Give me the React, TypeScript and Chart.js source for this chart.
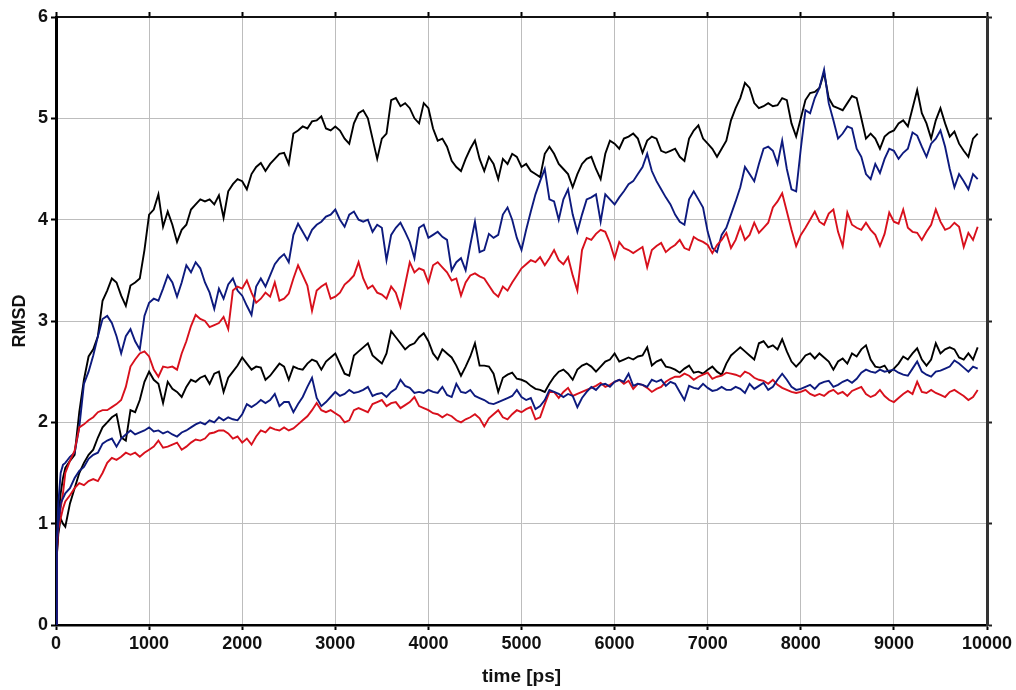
import React, { useEffect, useRef } from 'react';
import { Chart, registerables } from 'chart.js';

Chart.register(...registerables);

// time axis (ps): a few early samples, then every 50 ps from 100 to 9900
const earlyTimes = [0, 10, 25, 50, 75];
const gridStart = 100;
const gridStep = 50;
const gridEnd = 9900;
const times: number[] = [
  ...earlyTimes,
  ...Array.from({ length: (gridEnd - gridStart) / gridStep + 1 }, (_, i) => gridStart + i * gridStep),
];

const xTicks = [0, 1000, 2000, 3000, 4000, 5000, 6000, 7000, 8000, 9000, 10000];
const yTicks = [0, 1, 2, 3, 4, 5, 6];

// upper black
const blackUpper = [
  0, 0.75, 1.05, 1.3, 1.45,
  1.55, 1.62, 1.68, 2.1, 2.42, 2.65, 2.72, 2.85,
  3.2, 3.3, 3.42, 3.38, 3.25, 3.15, 3.35, 3.38, 3.42, 3.7,
  4.05, 4.1, 4.25, 3.93, 4.08, 3.95, 3.78, 3.9, 3.95, 4.1,
  4.15, 4.2, 4.18, 4.2, 4.15, 4.24, 4.02, 4.28, 4.35, 4.4,
  4.38, 4.3, 4.45, 4.52, 4.56, 4.48, 4.55, 4.6, 4.65, 4.66,
  4.55, 4.85, 4.88, 4.92, 4.9, 4.97, 4.98, 5.02, 4.9, 4.88,
  4.92, 4.88, 4.8, 4.75, 4.95, 5.05, 5.08, 5.0, 4.8, 4.6,
  4.8, 4.85, 5.18, 5.2, 5.12, 5.15, 5.1, 5.0, 4.95, 5.15,
  5.1, 4.9, 4.78, 4.8, 4.72, 4.58, 4.52, 4.48, 4.6, 4.7,
  4.78, 4.6, 4.48, 4.62, 4.55, 4.4, 4.6, 4.55, 4.65, 4.62,
  4.52, 4.55, 4.48, 4.45, 4.42, 4.65, 4.72, 4.65, 4.55, 4.5,
  4.45, 4.32, 4.45, 4.55, 4.6, 4.62, 4.5, 4.4, 4.65, 4.78,
  4.75, 4.7, 4.8, 4.82, 4.85, 4.8, 4.66, 4.78, 4.82, 4.8,
  4.68, 4.66, 4.68, 4.7, 4.62, 4.58, 4.8, 4.88, 4.93, 4.8,
  4.75, 4.7, 4.62, 4.7, 4.78, 4.98, 5.1, 5.2, 5.35, 5.3,
  5.15, 5.1, 5.12, 5.15, 5.12, 5.13, 5.2, 5.18, 4.95, 4.82,
  5.0, 5.18, 5.25, 5.26, 5.3, 5.45, 5.2, 5.12, 5.1, 5.08,
  5.15, 5.22, 5.2, 5.0, 4.8, 4.85, 4.8, 4.7, 4.82, 4.86,
  4.88, 4.95, 4.98, 4.92, 5.1, 5.28, 5.05, 4.95, 4.8, 4.98,
  5.1, 4.95, 4.82, 4.87, 4.75, 4.68, 4.62, 4.8, 4.85,
];

// upper blue
const blueUpper = [
  0, 0.8, 1.2, 1.5, 1.58,
  1.6, 1.66, 1.7, 1.95, 2.38, 2.5, 2.66, 2.85,
  3.02, 3.05, 2.98, 2.85, 2.68, 2.85, 2.92, 2.8, 2.72, 3.05,
  3.18, 3.22, 3.2, 3.32, 3.45, 3.38, 3.24, 3.38, 3.55, 3.48,
  3.58, 3.52, 3.38, 3.28, 3.12, 3.32, 3.22, 3.36, 3.42, 3.3,
  3.25, 3.15, 3.06, 3.34, 3.42, 3.34, 3.45, 3.56, 3.62, 3.66,
  3.58, 3.85, 3.96, 3.88, 3.8, 3.9, 3.95, 3.98, 4.03, 4.05,
  4.1, 4.0, 3.93, 4.05, 4.08, 4.0, 3.98, 4.0, 3.88, 3.95,
  3.92, 3.6, 3.85, 3.92, 3.97, 3.88, 3.78, 3.62, 3.92, 3.95,
  3.82, 3.85, 3.88, 3.83, 3.8, 3.5, 3.58, 3.62, 3.5, 3.75,
  3.98, 3.68, 3.7, 3.86, 3.82, 3.85, 4.05, 4.12, 4.0, 3.82,
  3.7, 3.9, 4.08, 4.25, 4.38, 4.5, 4.2, 4.18, 4.0, 4.2,
  4.3, 4.05, 3.88, 4.05, 4.2, 4.22, 4.25, 3.98, 4.25, 4.2,
  4.15, 4.22, 4.28, 4.35, 4.38, 4.45, 4.52, 4.65, 4.48, 4.38,
  4.3, 4.22, 4.15, 4.05, 3.98, 3.95, 4.2, 4.28, 4.2, 4.12,
  3.88, 3.72, 3.68, 3.85, 3.92, 4.05, 4.18, 4.32, 4.52, 4.45,
  4.38, 4.55, 4.7, 4.72, 4.68, 4.55, 4.78, 4.5, 4.3, 4.28,
  4.7, 5.08, 5.05, 5.2, 5.3, 5.48, 5.15, 4.98, 4.8, 4.85,
  4.92, 4.9, 4.7, 4.62, 4.45, 4.4, 4.55, 4.46, 4.6, 4.7,
  4.68, 4.6, 4.66, 4.7, 4.86, 4.83, 4.72, 4.62, 4.75, 4.8,
  4.88, 4.72, 4.5, 4.32, 4.45, 4.38, 4.3, 4.45, 4.4,
];

// upper red
const redUpper = [
  0, 0.7, 0.95, 1.15, 1.3,
  1.5, 1.62, 1.72, 1.95, 1.98, 2.02, 2.05, 2.1,
  2.12, 2.12, 2.15, 2.18, 2.22, 2.35, 2.55, 2.62, 2.68, 2.7,
  2.65, 2.52, 2.45, 2.55, 2.54, 2.55, 2.52, 2.68, 2.8, 2.95,
  3.06, 3.02, 3.0, 2.94, 2.96, 2.98, 3.04, 2.92, 3.3, 3.34,
  3.32, 3.4, 3.28, 3.18, 3.22, 3.28, 3.24, 3.38, 3.2, 3.22,
  3.27, 3.42, 3.55, 3.45, 3.35, 3.1, 3.3, 3.34, 3.37, 3.22,
  3.24, 3.28, 3.36, 3.4, 3.45, 3.58, 3.42, 3.32, 3.35, 3.28,
  3.26, 3.22, 3.34, 3.28, 3.14, 3.36, 3.58, 3.48, 3.52, 3.5,
  3.38, 3.55, 3.58, 3.53, 3.48, 3.4, 3.42, 3.25, 3.38, 3.45,
  3.47, 3.44, 3.42, 3.35, 3.28, 3.24, 3.34, 3.3, 3.38, 3.45,
  3.52, 3.56, 3.6, 3.58, 3.63, 3.55, 3.62, 3.7, 3.6, 3.56,
  3.63, 3.45, 3.3, 3.7, 3.82, 3.8, 3.86, 3.9, 3.88, 3.77,
  3.62, 3.78, 3.72, 3.7, 3.67, 3.7, 3.73, 3.53, 3.7, 3.74,
  3.77, 3.68, 3.72, 3.75, 3.8, 3.72, 3.7, 3.83, 3.8, 3.78,
  3.75, 3.67, 3.75, 3.8, 3.87, 3.72, 3.8, 3.93, 3.8, 3.85,
  3.97, 3.87, 3.92, 3.97, 4.12, 4.18, 4.26, 4.08, 3.9, 3.74,
  3.85, 3.92, 4.0, 4.08, 3.98, 3.95, 4.06, 4.1, 3.88, 3.74,
  4.07, 3.95, 3.92, 3.9, 3.97, 3.9, 3.85, 3.74, 3.86, 4.07,
  3.98, 3.96, 4.1, 3.92, 3.88, 3.87, 3.8, 3.88, 3.95, 4.1,
  3.98, 3.9, 3.92, 3.97, 3.93, 3.73, 3.87, 3.8, 3.93,
];

// lower black
const blackLower = [
  0, 0.7, 0.9, 1.05, 1.0,
  0.97, 1.2, 1.35, 1.5, 1.6, 1.68, 1.73, 1.85,
  1.95, 2.0, 2.05, 2.08, 1.85, 1.82, 2.12, 2.1, 2.22, 2.4,
  2.5, 2.42, 2.38, 2.19, 2.4, 2.33, 2.3, 2.25, 2.35, 2.42,
  2.4, 2.44, 2.46, 2.38, 2.48, 2.5, 2.3, 2.44, 2.5, 2.56,
  2.64, 2.58, 2.52, 2.55, 2.54, 2.42, 2.46, 2.52, 2.58, 2.55,
  2.42, 2.55, 2.53, 2.52, 2.58, 2.62, 2.6, 2.52, 2.6, 2.64,
  2.68, 2.58, 2.48, 2.46, 2.66, 2.7, 2.74, 2.78, 2.66, 2.62,
  2.58, 2.68, 2.9, 2.84, 2.78, 2.72, 2.76, 2.78, 2.84, 2.88,
  2.8, 2.68, 2.62, 2.72, 2.68, 2.64, 2.56, 2.46, 2.55, 2.65,
  2.78, 2.56, 2.56, 2.55, 2.48, 2.3, 2.44, 2.47, 2.49, 2.43,
  2.42, 2.4, 2.36, 2.33, 2.32, 2.3, 2.38, 2.45, 2.5, 2.52,
  2.48, 2.42, 2.52, 2.56, 2.58, 2.55, 2.5, 2.55, 2.6, 2.62,
  2.68, 2.6, 2.62, 2.64, 2.62, 2.65, 2.66, 2.74, 2.56, 2.6,
  2.62, 2.55, 2.54, 2.52, 2.49, 2.53, 2.56, 2.49, 2.5, 2.48,
  2.52, 2.55, 2.5, 2.47, 2.58, 2.66, 2.7, 2.74, 2.7, 2.66,
  2.62, 2.78, 2.8, 2.74, 2.76, 2.72, 2.82, 2.7, 2.6, 2.55,
  2.6, 2.66, 2.68, 2.63, 2.68, 2.64, 2.6, 2.52, 2.6, 2.63,
  2.58, 2.68, 2.65, 2.72, 2.76, 2.62, 2.55, 2.54, 2.56, 2.49,
  2.53, 2.58, 2.65, 2.62, 2.68, 2.73, 2.62, 2.56, 2.62, 2.78,
  2.68, 2.72, 2.74, 2.72, 2.64, 2.62, 2.68, 2.62, 2.74,
];

// lower blue
const blueLower = [
  0, 0.8, 1.0, 1.2, 1.25,
  1.3, 1.35, 1.45, 1.52, 1.56, 1.64, 1.68, 1.7,
  1.79, 1.82, 1.84, 1.76, 1.84, 1.88, 1.92, 1.88, 1.9, 1.92,
  1.95, 1.91, 1.92, 1.89, 1.91, 1.88, 1.86, 1.9, 1.92, 1.95,
  1.98, 2.0, 1.98, 2.02, 2.0, 2.05, 2.02, 2.05, 2.03, 2.02,
  2.08, 2.18, 2.15, 2.18, 2.22, 2.19, 2.22, 2.28, 2.16, 2.2,
  2.2, 2.1, 2.18, 2.25, 2.35, 2.44, 2.24, 2.16, 2.2, 2.25,
  2.3, 2.26, 2.28, 2.32, 2.29, 2.3, 2.32, 2.35, 2.26, 2.28,
  2.29, 2.25, 2.3, 2.33, 2.42, 2.36, 2.34, 2.29, 2.3, 2.29,
  2.32, 2.3, 2.29, 2.35, 2.27, 2.25, 2.38, 2.3, 2.29, 2.32,
  2.26, 2.24, 2.22, 2.19, 2.18, 2.2, 2.22, 2.24, 2.26, 2.32,
  2.25, 2.22, 2.24, 2.13, 2.16, 2.22, 2.32, 2.3, 2.28, 2.25,
  2.28, 2.26, 2.15, 2.24, 2.3, 2.35, 2.32, 2.37, 2.38, 2.35,
  2.4, 2.42, 2.4, 2.48, 2.36, 2.38, 2.37, 2.35, 2.42, 2.4,
  2.42, 2.36, 2.4, 2.38, 2.3, 2.22, 2.36, 2.34, 2.33, 2.38,
  2.34, 2.31, 2.32, 2.35, 2.32, 2.32, 2.35, 2.33, 2.29, 2.38,
  2.33, 2.36, 2.39, 2.32, 2.35, 2.42, 2.48, 2.42, 2.35, 2.32,
  2.33, 2.35, 2.37, 2.33, 2.38, 2.4, 2.41, 2.35, 2.37, 2.4,
  2.42, 2.39, 2.43, 2.49, 2.52, 2.5, 2.49, 2.52, 2.5, 2.51,
  2.52, 2.49, 2.47, 2.46, 2.53, 2.6, 2.5, 2.47, 2.45, 2.5,
  2.51, 2.53, 2.55, 2.61, 2.58, 2.54, 2.5, 2.55, 2.53,
];

// lower red
const redLower = [
  0, 0.75, 0.95, 1.05, 1.15,
  1.22, 1.28, 1.35, 1.4, 1.38, 1.42, 1.44, 1.42,
  1.5, 1.6, 1.65, 1.63, 1.66, 1.7, 1.68, 1.7, 1.66, 1.7,
  1.73, 1.76, 1.82, 1.75, 1.76, 1.78, 1.8, 1.73, 1.76, 1.8,
  1.83, 1.82, 1.84, 1.89, 1.9, 1.92, 1.92, 1.89, 1.84, 1.86,
  1.8, 1.84, 1.78, 1.86, 1.92, 1.9, 1.95, 1.93, 1.92, 1.95,
  1.92, 1.94, 1.98, 2.02, 2.06, 2.12, 2.19, 2.12, 2.1, 2.12,
  2.09, 2.06, 2.0, 2.02, 2.12, 2.14, 2.12, 2.1, 2.18, 2.2,
  2.22, 2.16, 2.19, 2.2, 2.14, 2.17, 2.2, 2.25, 2.16, 2.14,
  2.12, 2.09, 2.08, 2.05, 2.08, 2.06, 2.02, 2.0, 2.03, 2.05,
  2.08, 2.04, 1.96, 2.04, 2.08, 2.12, 2.05, 2.03, 2.08, 2.12,
  2.1, 2.13, 2.15, 2.03, 2.05, 2.18, 2.3, 2.3, 2.24, 2.3,
  2.34, 2.26, 2.28, 2.3, 2.32, 2.34, 2.36, 2.39, 2.35, 2.37,
  2.4, 2.42, 2.38, 2.41, 2.33, 2.38, 2.37, 2.34, 2.3, 2.33,
  2.35, 2.4, 2.43, 2.45, 2.45, 2.48, 2.46, 2.42, 2.45, 2.47,
  2.49, 2.43, 2.45, 2.46, 2.49, 2.48, 2.47, 2.45, 2.5, 2.48,
  2.44, 2.42, 2.41, 2.38, 2.42, 2.37, 2.34, 2.32, 2.3, 2.29,
  2.3, 2.32, 2.28, 2.26, 2.28, 2.26, 2.3, 2.32, 2.28, 2.3,
  2.26, 2.31, 2.33, 2.35, 2.28, 2.25, 2.27, 2.32, 2.26, 2.22,
  2.2, 2.24, 2.28, 2.31, 2.28, 2.4, 2.3, 2.29, 2.32, 2.29,
  2.27, 2.25, 2.3, 2.32, 2.29, 2.26, 2.22, 2.25, 2.32,
];

const BLACK = '#000000';
const BLUE = '#0d1a7e';
const RED = '#d8101c';

const seriesList = [
  { name: 'lower blue', values: blueLower, color: BLUE },
  { name: 'lower red', values: redLower, color: RED },
  { name: 'lower black', values: blackLower, color: BLACK },
  { name: 'upper red', values: redUpper, color: RED },
  { name: 'upper blue', values: blueUpper, color: BLUE },
  { name: 'upper black', values: blackUpper, color: BLACK },
];

const FONT_FAMILY = '"Liberation Sans", Arial, sans-serif';
const tickFont = { family: FONT_FAMILY, size: 18, weight: 'bold' as const };

export default function App() {
  const ref = useRef<HTMLCanvasElement | null>(null);

  useEffect(() => {
    if (!ref.current) return;
    const n = times.length;
    const chart = new Chart(ref.current, {
      type: 'line',
      data: {
        datasets: seriesList.map((s) => ({
          label: s.name,
          data: times.slice(0, Math.min(n, s.values.length)).map((t, i) => ({ x: t, y: s.values[i] })),
          borderColor: s.color,
          backgroundColor: s.color,
          borderWidth: 1.9,
          pointRadius: 0,
          tension: 0,
          fill: false,
        })),
      },
      options: {
        animation: false,
        responsive: false,
        maintainAspectRatio: false,
        layout: { padding: { left: 0, right: 0, top: 0, bottom: 0 } },
        plugins: {
          legend: { display: false },
          tooltip: { enabled: false },
        },
        scales: {
          x: {
            type: 'linear',
            position: 'bottom',
            min: 0,
            max: 10000,
            afterBuildTicks: (scale: any) => {
              scale.ticks = xTicks.map((v) => ({ value: v }));
            },
            afterFit: (scale: any) => {
              scale.height = 65;
            },
            ticks: {
              color: '#111',
              font: tickFont,
              padding: 3,
              maxRotation: 0,
              autoSkip: false,
              callback: (v: any) => String(v),
            },
            grid: {
              color: '#bdbdbd',
              lineWidth: 1,
              tickColor: '#000',
              tickLength: 5,
              tickWidth: 2,
            },
            border: { color: '#000', width: 2.5 },
            title: {
              display: true,
              text: 'time [ps]',
              color: '#111',
              font: { family: FONT_FAMILY, size: 19, weight: 'bold' },
              padding: { top: 0, bottom: 2 },
            },
          },
          x2: {
            type: 'linear',
            position: 'top',
            min: 0,
            max: 10000,
            afterBuildTicks: (scale: any) => {
              scale.ticks = xTicks.map((v) => ({ value: v }));
            },
            afterFit: (scale: any) => {
              scale.height = 17;
            },
            ticks: { display: false },
            grid: { drawOnChartArea: false, tickColor: '#000', tickLength: 5, tickWidth: 2 },
            border: { color: '#111', width: 2 },
          },
          y: {
            type: 'linear',
            position: 'left',
            min: 0,
            max: 6,
            afterBuildTicks: (scale: any) => {
              scale.ticks = yTicks.map((v) => ({ value: v }));
            },
            afterFit: (scale: any) => {
              scale.width = 56;
            },
            ticks: {
              color: '#111',
              font: tickFont,
              padding: 3,
              callback: (v: any) => String(v),
            },
            grid: {
              color: '#bdbdbd',
              lineWidth: 1,
              tickColor: '#000',
              tickLength: 5,
              tickWidth: 2,
            },
            border: { color: '#000', width: 3 },
            title: {
              display: true,
              text: 'RMSD',
              color: '#111',
              font: { family: FONT_FAMILY, size: 18, weight: 'bold' },
              padding: { top: 9, bottom: 0 },
            },
          },
          y2: {
            type: 'linear',
            position: 'right',
            min: 0,
            max: 6,
            afterBuildTicks: (scale: any) => {
              scale.ticks = yTicks.map((v) => ({ value: v }));
            },
            afterFit: (scale: any) => {
              scale.width = 29;
            },
            ticks: { display: false },
            grid: { drawOnChartArea: false, tickColor: '#222', tickLength: 5, tickWidth: 2 },
            border: { color: '#333', width: 3 },
          },
        },
      },
    });
    return () => chart.destroy();
  }, []);

  return (
    <div style={{ position: 'fixed', left: 0, top: 0, width: 1016, height: 690, background: '#fff' }}>
      <canvas ref={ref} width={1016} height={690} style={{ display: 'block', width: 1016, height: 690 }} />
    </div>
  );
}
